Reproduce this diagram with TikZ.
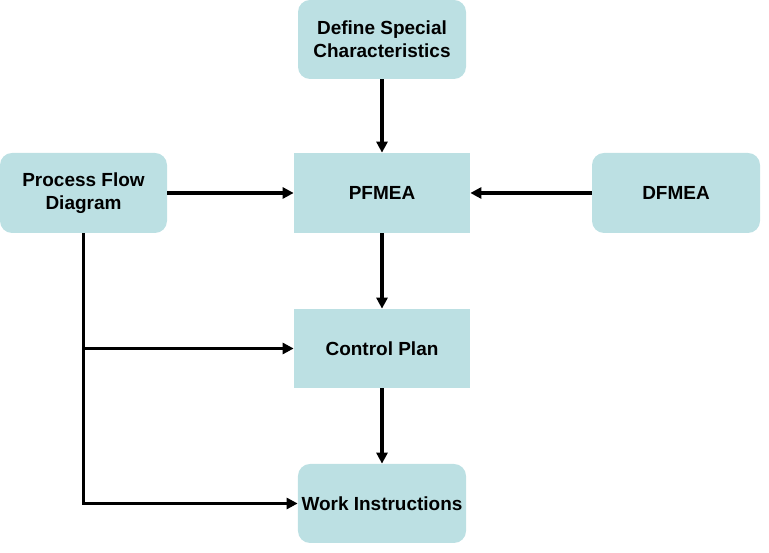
\documentclass[tikz,border=0pt]{standalone}
\usepackage{fontspec}
\setmainfont{Liberation Sans}
\usetikzlibrary{arrows.meta}
\definecolor{boxblue}{RGB}{188,224,227}
\tikzset{
    box/.style={draw=none, fill=boxblue, minimum width=3.52cm, minimum height=1.6cm, inner sep=2pt,
        align=center, font=\fontsize{10.8}{13.2}\selectfont\bfseries},
    roundbox/.style={box, rounded corners=0.24cm, minimum width=3.36cm},
    flow/.style={line width=2pt, -{Triangle[length=2.2mm,width=2.2mm]}}
}
\begin{document}
\begin{tikzpicture}
        \useasboundingbox (0,0) rectangle (15.38,11.06);

        \node[roundbox, minimum height=1.58cm] (dsc) at (7.64, 10.27) {Define Special\\Characteristics};
        \node[box] (pfmea) at (7.64, 7.2) {PFMEA};
        \node[roundbox, minimum width=3.34cm] (pfd) at (1.67, 7.2) {Process Flow\\Diagram};
        \node[roundbox] (dfmea) at (13.52, 7.2) {DFMEA};
        \node[box, minimum height=1.58cm] (cp) at (7.64, 4.09) {Control Plan};
        \node[roundbox, minimum height=1.58cm] (wi) at (7.64, 0.99) {Work Instructions};

        \coordinate (tee) at (pfd.south |- cp.west);
        \coordinate (corner) at (pfd.south |- wi.west);

        \draw[flow] (dsc) -- (pfmea);
        \draw[flow] (pfd) -- (pfmea);
        \draw[flow] (dfmea) -- (pfmea);
        \draw[flow] (pfmea) -- (cp);
        \draw[flow] (cp) -- (wi);
        \draw[flow] (pfd.south) -- (corner) -- (wi.west);
        \draw[flow] (tee) -- (cp.west);

    \end{tikzpicture}
\end{document}
